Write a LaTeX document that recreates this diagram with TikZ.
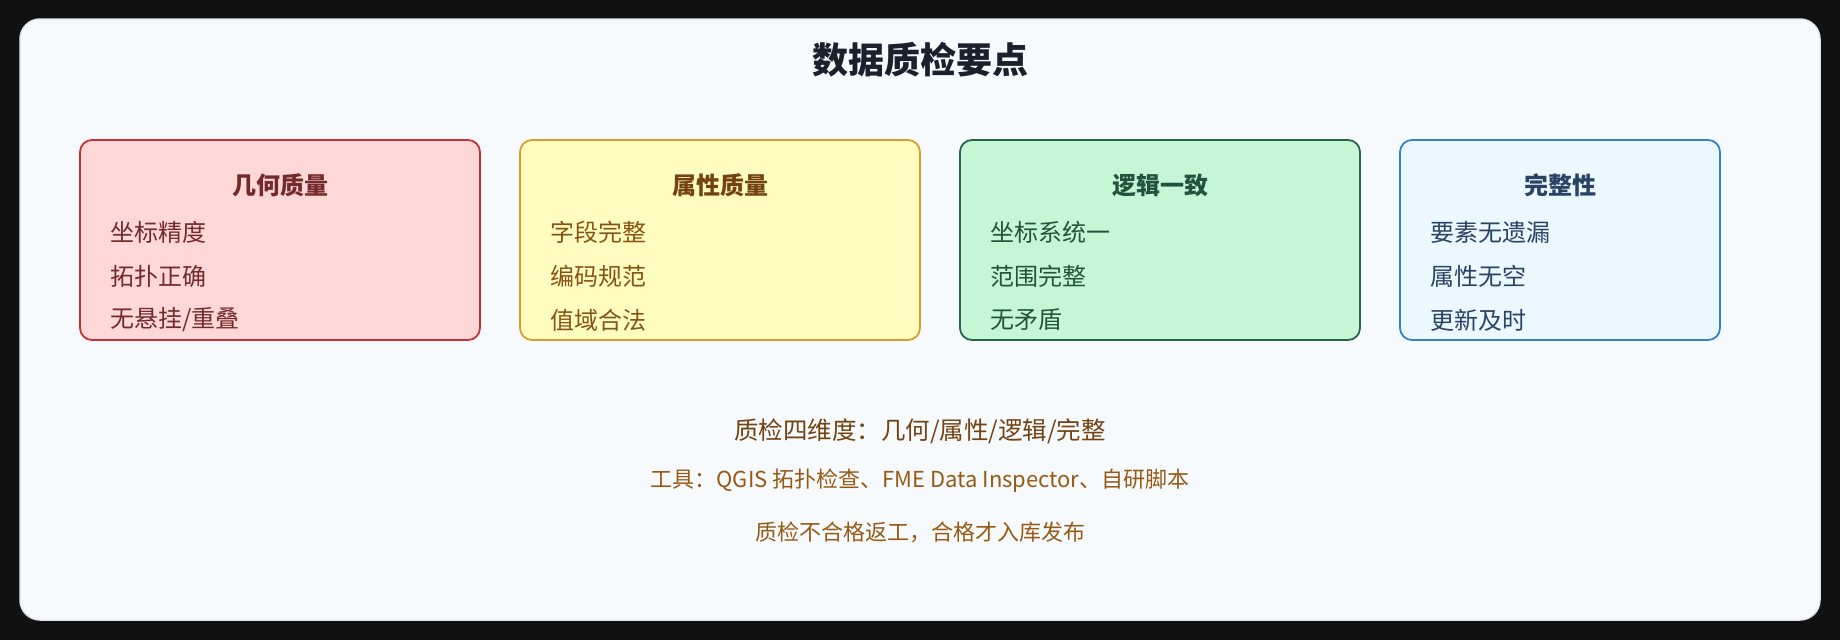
\documentclass[tikz,border=0pt]{standalone}
\usepackage{fontspec}
\setmainfont{Noto Sans CJK SC}
\definecolor{bg_dark}{HTML}{111111}
\definecolor{panel_fill}{HTML}{F7FAFC}
\definecolor{panel_line}{HTML}{E2E8F0}
\definecolor{title_text}{HTML}{1A202C}
\definecolor{geo_fill}{HTML}{FED7D7}
\definecolor{geo_line}{HTML}{C53030}
\definecolor{geo_text}{HTML}{742A2A}
\definecolor{attr_fill}{HTML}{FEFCBF}
\definecolor{attr_line}{HTML}{D69E2E}
\definecolor{attr_text}{HTML}{744210}
\definecolor{logic_fill}{HTML}{C6F6D5}
\definecolor{logic_line}{HTML}{276749}
\definecolor{logic_text}{HTML}{22543D}
\definecolor{full_fill}{HTML}{EBF8FF}
\definecolor{full_line}{HTML}{3182CE}
\definecolor{full_text}{HTML}{2A4365}
\definecolor{note_dark}{HTML}{744210}
\definecolor{note_light}{HTML}{975A16}
\begin{document}
\begin{tikzpicture}[
  x=1pt, y=-1pt,
  card/.style={
    draw,
    rounded corners=12,
    line width=1.8,
    minimum width=400,
    minimum height=200,
    inner sep=0
  },
  card_geo/.style={card, draw=geo_line, fill=geo_fill},
  card_attr/.style={card, draw=attr_line, fill=attr_fill},
  card_logic/.style={card, draw=logic_line, fill=logic_fill},
  card_full/.style={card, draw=full_line, fill=full_fill, minimum width=320},
  heading/.style={
    font=\bfseries\fontsize{24}{28}\selectfont
  },
  item/.style={
    anchor=west,
    inner sep=0,
    font=\fontsize{24}{28}\selectfont
  },
  note/.style={
    font=\fontsize{22}{26}\selectfont,
    color=note_light
  }
]%
\useasboundingbox (0,0) rectangle (1840,640);
\fill [bg_dark] (0,0) rectangle (1840,640);
\filldraw [fill=panel_fill, draw=panel_line, line width=1.5, rounded corners=20] (20,19) rectangle (1820,620);
\node [font=\bfseries\fontsize{36}{40}\selectfont, color=title_text] (title) at (920,60) {数据质检要点};
% cards
\node [card_geo] (geo) at (280,240) {};
\node [card_attr] (attr) at (720,240) {};
\node [card_logic] (logic) at (1160,240) {};
\node [card_full] (full) at (1560,240) {};
% geometry
\node [heading, color=geo_text] (geo_head) at (280,185) {几何质量};
\node [item, color=geo_text] (geo_a) at (110,232) {坐标精度};
\node [item, color=geo_text] (geo_b) at (110,276) {拓扑正确};
\node [item, color=geo_text] (geo_c) at (110,320) {无悬挂/重叠};
% attributes
\node [heading, color=attr_text] (attr_head) at (720,185) {属性质量};
\node [item, color=attr_text!80!attr_line] (attr_a) at (550,232) {字段完整};
\node [item, color=attr_text!80!attr_line] (attr_b) at (550,276) {编码规范};
\node [item, color=attr_text!80!attr_line] (attr_c) at (550,320) {值域合法};
% logic
\node [heading, color=logic_text] (logic_head) at (1160,185) {逻辑一致};
\node [item, color=logic_text] (logic_a) at (990,232) {坐标系统一};
\node [item, color=logic_text] (logic_b) at (990,276) {范围完整};
\node [item, color=logic_text] (logic_c) at (990,320) {无矛盾};
% completeness
\node [heading, color=full_text] (full_head) at (1560,185) {完整性};
\node [item, color=full_text] (full_a) at (1430,232) {要素无遗漏};
\node [item, color=full_text] (full_b) at (1430,276) {属性无空};
\node [item, color=full_text] (full_c) at (1430,320) {更新及时};
% notes
\node [note, color=note_dark, font=\fontsize{24.5}{28}\selectfont] (sum) at (920,431) {质检四维度：几何/属性/逻辑/完整};
\node [note] (tools) at (920,481) {工具：QGIS 拓扑检查、FME Data Inspector、自研脚本};
\node [note] (rule) at (920,532) {质检不合格返工，合格才入库发布};
\end{tikzpicture}
\end{document}
